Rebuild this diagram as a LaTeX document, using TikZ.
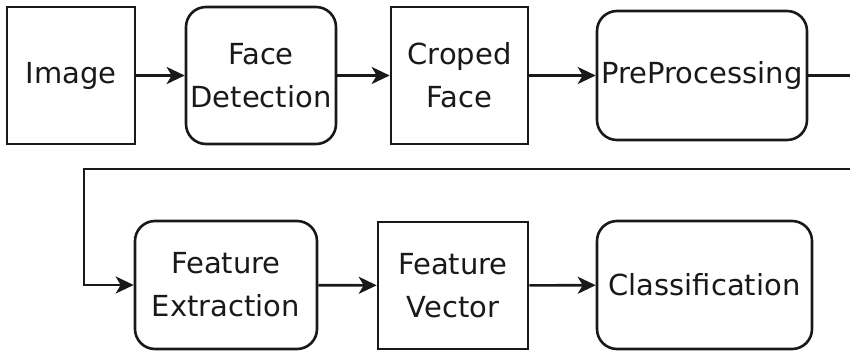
\documentclass[tikz,border=0pt]{standalone}
\usepackage{fontspec}
\setmainfont{DejaVu Sans}
\usetikzlibrary{arrows.meta}

\begin{document}
\begin{tikzpicture}[x=1pt,y=-1pt,
  line width=2.6pt, draw=black!90,
  box/.style={draw, inner sep=0pt, align=center, text=black!90,
    font=\fontsize{29}{43}\selectfont},
  rbox/.style={box, rounded corners=20pt},
  flow/.style={-{Stealth[length=18pt,width=17pt,inset=5pt]}}]
  \useasboundingbox (0,0) rectangle (850,351);
  \clip (0,0) rectangle (850,351);

  % top row
  \node[box,  minimum width=128pt, minimum height=137pt] (img) at (71,75.5)    {Image};
  \node[rbox, minimum width=150pt, minimum height=137pt] (fd)  at (261,75.5)   {Face\\Detection};
  \node[box,  minimum width=137pt, minimum height=137pt] (cf)  at (459.5,75.5) {Croped\\Face};
  \node[rbox, minimum width=210pt, minimum height=129pt] (pp)  at (702,75.5)   {PreProcessing};

  % bottom row
  \node[rbox, minimum width=182pt, minimum height=128pt] (fe) at (226,285)   {Feature\\Extraction};
  \node[box,  minimum width=150pt, minimum height=127pt] (fv) at (453,285.5) {Feature\\Vector};
  \node[rbox, minimum width=215pt, minimum height=128pt] (cl) at (704.5,285) {Classification};

  % connectors
  \draw[flow] (img) -- (fd);
  \draw[flow] (fd) -- (cf);
  \draw[flow] (cf) -- (pp);
  \coordinate (turnR) at (880,169);
  \coordinate (turnL) at (84,169);
  \draw[flow] (pp.east) -- (pp.east -| turnR) -- (turnR) -- (turnL)
    -- (turnL |- fe.west) -- (fe.west);
  \draw[flow] (fe) -- (fv);
  \draw[flow] (fv) -- (cl);
\end{tikzpicture}
\end{document}
